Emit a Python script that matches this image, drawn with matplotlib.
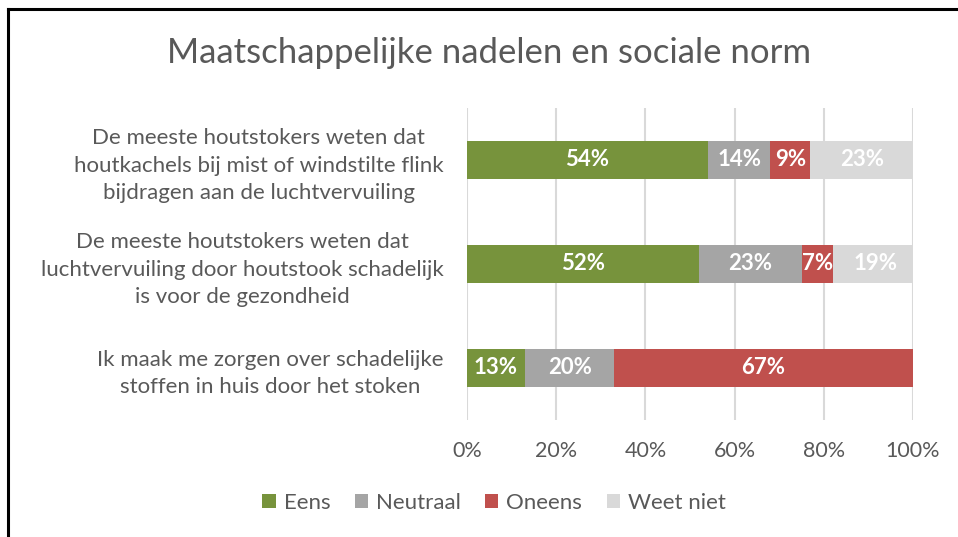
import matplotlib
matplotlib.use("Agg")
import matplotlib.pyplot as plt
from matplotlib.lines import Line2D
from matplotlib.patches import Patch

categories = [
    "De meeste houtstokers weten dat\nhoutkachels bij mist of windstilte flink\nbijdragen aan de luchtvervuiling",
    "De meeste houtstokers weten dat\nluchtvervuiling door houtstook schadelijk\nis voor de gezondheid",
    "Ik maak me zorgen over schadelijke\nstoffen in huis door het stoken",
]
series_names = ["Eens", "Neutraal", "Oneens", "Weet niet"]
eens = [54, 52, 13]
neutraal = [14, 23, 20]
oneens = [9, 7, 67]
weet_niet = [23, 19, 0]
tick_labels = ["0%", "20%", "40%", "60%", "80%", "100%"]
title = "Maatschappelijke nadelen en sociale norm"

colors = ["#77933C", "#A5A5A5", "#C0504D", "#D9D9D9"]
text_color = "#595959"

plt.rcParams['font.family'] = ['Lato', 'DejaVu Sans']

fig = plt.figure(figsize=(9.58, 5.37), dpi=100)
ax = fig.add_axes([467/958, 1-420/537, (913-467)/958, (420-108)/537])

series = [eens, neutraal, oneens, weet_niet]
ypos = list(range(len(categories)))
left = [0]*len(categories)
for name, vals, col in zip(series_names, series, colors):
    ax.barh(ypos, vals, left=left, height=0.36, color=col, label=name, zorder=3)
    for y, v, l in zip(ypos, vals, left):
        if v > 0:
            ax.text(l + v/2, y, f"{v}%", ha='center', va='center', color='white',
                    fontsize=16, fontweight='bold', zorder=4)
    left = [a+b for a, b in zip(left, vals)]

ax.set_xlim(0, 100)
ax.set_ylim(2.5, -0.5)
ax.set_xticks([0, 20, 40, 60, 80, 100])
ax.set_xticklabels(tick_labels, color=text_color, fontsize=15.5)
ax.set_yticks(ypos)
ax.set_yticklabels(categories, color=text_color, fontsize=16, multialignment='center', linespacing=1.45)
ax.tick_params(axis='both', length=0)
ax.tick_params(axis='x', pad=15)
ax.tick_params(axis='y', pad=17)
for s in ax.spines.values():
    s.set_visible(False)
ax.grid(axis='x', color='#D9D9D9', linewidth=1.5, zorder=0)
ax.set_axisbelow(True)

fig.text(489/958, 1-53/537, title, ha='center', va='center', fontsize=25, color=text_color)

handles = [Patch(facecolor=c, edgecolor='none') for c in colors]
fig.legend(handles, series_names, loc='center', bbox_to_anchor=(494/958, 1-503/537), ncol=4,
           frameon=False, fontsize=16, labelcolor=text_color, handlelength=0.6, handleheight=0.6,
           handletextpad=0.35, columnspacing=1.1)

# frame lines (top and left)
fig.add_artist(Line2D([8/958, 1], [1-9/537, 1-9/537], color='black', linewidth=2.2, transform=fig.transFigure))
fig.add_artist(Line2D([8/958, 8/958], [0, 1-9/537], color='black', linewidth=2.2, transform=fig.transFigure))

fig.savefig("out.png", dpi=100)
